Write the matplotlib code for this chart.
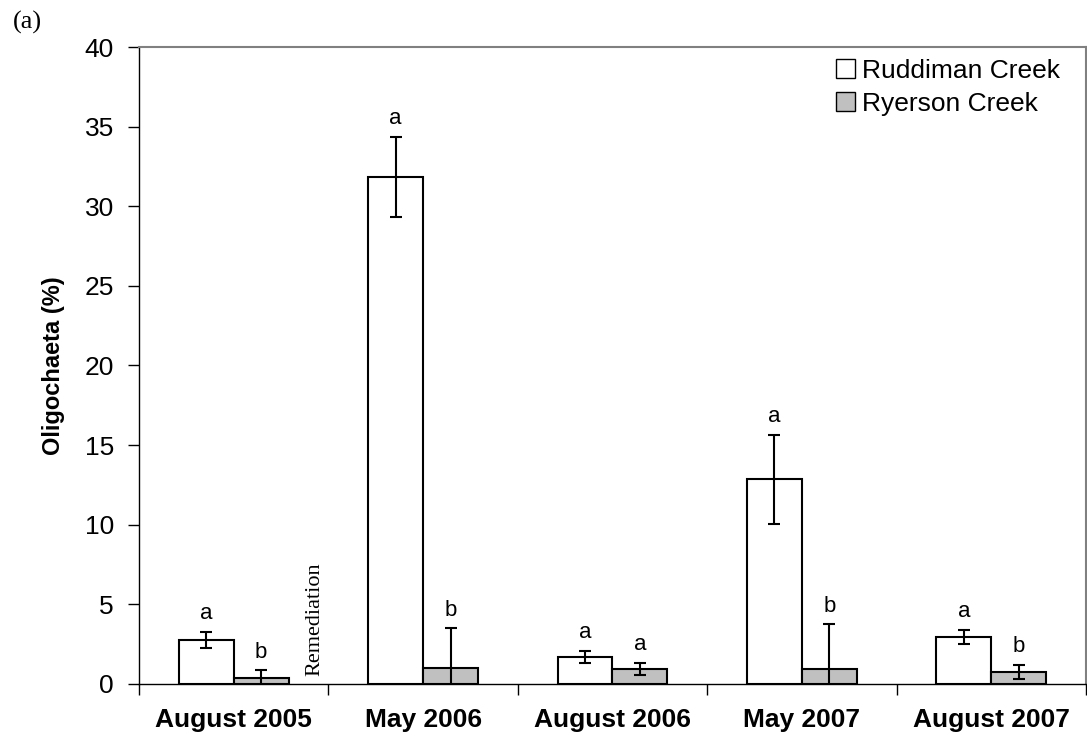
import matplotlib
matplotlib.use("Agg")
import matplotlib.pyplot as plt
import numpy as np
from matplotlib.patches import Patch

# Oligochaeta share (%) per sampling date, mean with standard error
dates = ["August 2005", "May 2006", "August 2006", "May 2007", "August 2007"]
ruddiman = [2.75, 31.85, 1.7, 12.85, 2.95]
ruddiman_err = [0.5, 2.5, 0.38, 2.8, 0.47]
ryerson = [0.35, 1.0, 0.95, 0.95, 0.75]
ryerson_err = [0.5, 2.5, 0.38, 2.8, 0.44]
ruddiman_letters = ["a", "a", "a", "a", "a"]
ryerson_letters = ["b", "b", "a", "b", "b"]

sans = "Liberation Sans"
serif = "Liberation Serif"
plt.rcParams["font.family"] = sans

fig = plt.figure(figsize=(10.87, 7.38), dpi=100)
ax = fig.add_axes([0.1279, 0.0732, 0.8711, 0.8631])

x = np.arange(len(dates))
width = 0.29

ax.bar(x - width / 2, ruddiman, width, color="white", edgecolor="black",
       linewidth=1.5, zorder=2)
ax.bar(x + width / 2, ryerson, width, color="#c0c0c0", edgecolor="black",
       linewidth=1.5, zorder=2)
ax.errorbar(x - width / 2, ruddiman, yerr=ruddiman_err, fmt="none",
            ecolor="black", elinewidth=1.5, capsize=4, capthick=1.5, zorder=3)
ax.errorbar(x + width / 2, ryerson, yerr=ryerson_err, fmt="none",
            ecolor="black", elinewidth=1.5, capsize=4, capthick=1.5, zorder=3)

# significance letters above each error bar
for i in range(len(dates)):
    ax.text(x[i] - width / 2, ruddiman[i] + ruddiman_err[i] + 0.8,
            ruddiman_letters[i], ha="center", va="baseline", fontsize=16)
    ax.text(x[i] + width / 2, ryerson[i] + ryerson_err[i] + 0.8,
            ryerson_letters[i], ha="center", va="baseline", fontsize=16)

ax.text(0.43, 0.5, "Remediation", rotation=90, ha="center", va="bottom",
        fontsize=16, family=serif)

ax.set_xlim(-0.5, len(dates) - 0.5)
ax.set_ylim(0, 40)
ax.set_yticks(range(0, 41, 5))
ax.tick_params(axis="y", labelsize=19, direction="out", length=8, width=1,
               pad=10)

# category boundaries get the ticks, labels sit in between
ax.set_xticks(np.arange(-0.5, len(dates) + 0.5, 1))
ax.set_xticklabels([])
ax.set_xticks(x, minor=True)
ax.set_xticklabels(dates, minor=True, fontsize=19, fontweight="bold")
ax.tick_params(axis="x", which="major", direction="out", length=8, width=1)
ax.tick_params(axis="x", which="minor", length=0, pad=17)

ax.set_ylabel("Oligochaeta (%)", fontsize=17, fontweight="bold")
ax.yaxis.set_label_coords(-0.078, 0.5)

for side in ["left", "bottom"]:
    ax.spines[side].set_linewidth(1)
for side in ["top", "right"]:
    ax.spines[side].set_color("#808080")
    ax.spines[side].set_linewidth(1.5)

handles = [Patch(facecolor="white", edgecolor="black", label="Ruddiman Creek"),
           Patch(facecolor="#c0c0c0", edgecolor="black", label="Ryerson Creek")]
ax.legend(handles=handles, loc="upper left", bbox_to_anchor=(0.731, 0.99),
          frameon=False, fontsize=19, handlelength=0.7, handleheight=0.7,
          handletextpad=0.25, borderaxespad=0.0, borderpad=0.2,
          labelspacing=0.35)

fig.text(0.012, 0.985, "(a)", ha="left", va="top", fontsize=19, family=serif)

fig.savefig("out.png", dpi=100)
